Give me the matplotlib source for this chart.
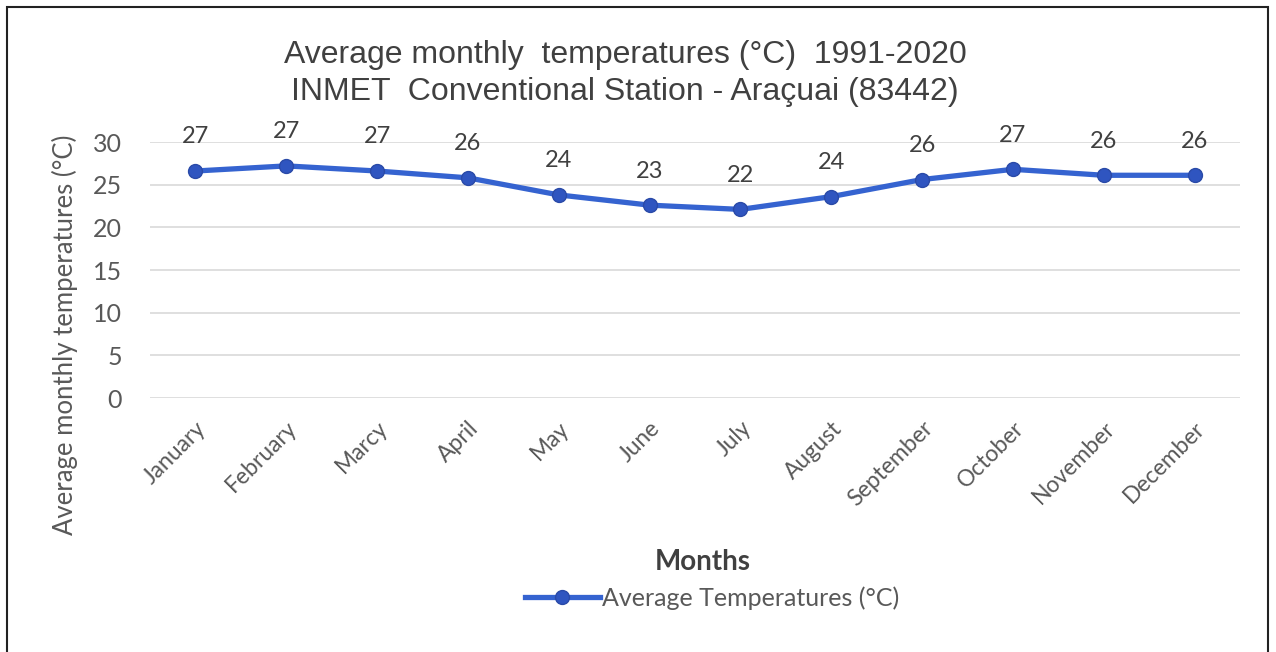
import matplotlib
matplotlib.use("Agg")
import matplotlib.pyplot as plt
from matplotlib.patches import Rectangle

months = ["January", "February", "Marcy", "April", "May", "June",
          "July", "August", "September", "October", "November", "December"]
temps = [26.6, 27.2, 26.6, 25.8, 23.8, 22.6, 22.1, 23.6, 25.6, 26.8, 26.1, 26.1]
yticks = [0, 5, 10, 15, 20, 25, 30]

line_color = "#3563d0"
gray = "#595959"

fig = plt.figure(figsize=(12.76, 6.52), dpi=100)
ax = fig.add_axes([150 / 1276, 1 - 398 / 652, (1240 - 150) / 1276, 256 / 652])

x = list(range(len(months)))
ax.plot(x, temps, "-o", color=line_color, lw=3.8, ms=10,
        markerfacecolor="#2f55c0", markeredgecolor="#2a4aa8", mew=1,
        label="Average Temperatures (°C)", zorder=3)

for xi, v in zip(x, temps):
    ax.annotate(f"{v:.0f}", (xi, v), xytext=(0, 17), textcoords="offset points",
                ha="center", va="bottom", fontsize=17, color="#404040",
                family="Lato", annotation_clip=False)

ax.set_xlim(-0.5, len(months) - 0.5)
ax.set_ylim(0, 30)
ax.set_yticks(yticks)
ax.set_yticklabels([str(t) for t in yticks], fontsize=18, color=gray, family="Lato")
ax.set_xticks(x)
ax.set_xticklabels(months, rotation=45, ha="right", rotation_mode="anchor",
                   fontsize=16.5, color=gray, family="Lato")
ax.tick_params(axis="y", length=0, pad=20)
ax.tick_params(axis="x", length=0, pad=14)
ax.grid(axis="y", color="#d9d9d9", lw=1.2)
for s in ax.spines.values():
    s.set_visible(False)

fig.text(625 / 1276, 1 - 55 / 652, "Average monthly  temperatures (°C)  1991-2020",
         ha="center", va="center", fontsize=23, color="#404040", family="Liberation Sans")
fig.text(625 / 1276, 1 - 92 / 652, "INMET  Conventional Station - Araçuai (83442)",
         ha="center", va="center", fontsize=23, color="#404040", family="Liberation Sans")

fig.text(65 / 1276, 1 - 335 / 652, "Average monthly temperatures (°C)", rotation=90,
         ha="center", va="center", fontsize=18.5, color=gray, family="Lato")
fig.text(703 / 1276, 1 - 562 / 652, "Months", ha="center", va="center",
         fontsize=20, fontweight="bold", color="#404040", family="Lato")

fig.legend(loc="center", bbox_to_anchor=(712 / 1276, 1 - 598 / 652), frameon=False,
           prop={"family": "Lato", "size": 18}, labelcolor=gray,
           handlelength=3.0, handletextpad=0.1)

fig.patches.append(Rectangle((7 / 1276, -0.01), 1261 / 1276, 1 - 7 / 652 + 0.01,
                             transform=fig.transFigure, fill=False,
                             edgecolor="#222222", lw=1.5))

fig.savefig("out.png", dpi=100)
